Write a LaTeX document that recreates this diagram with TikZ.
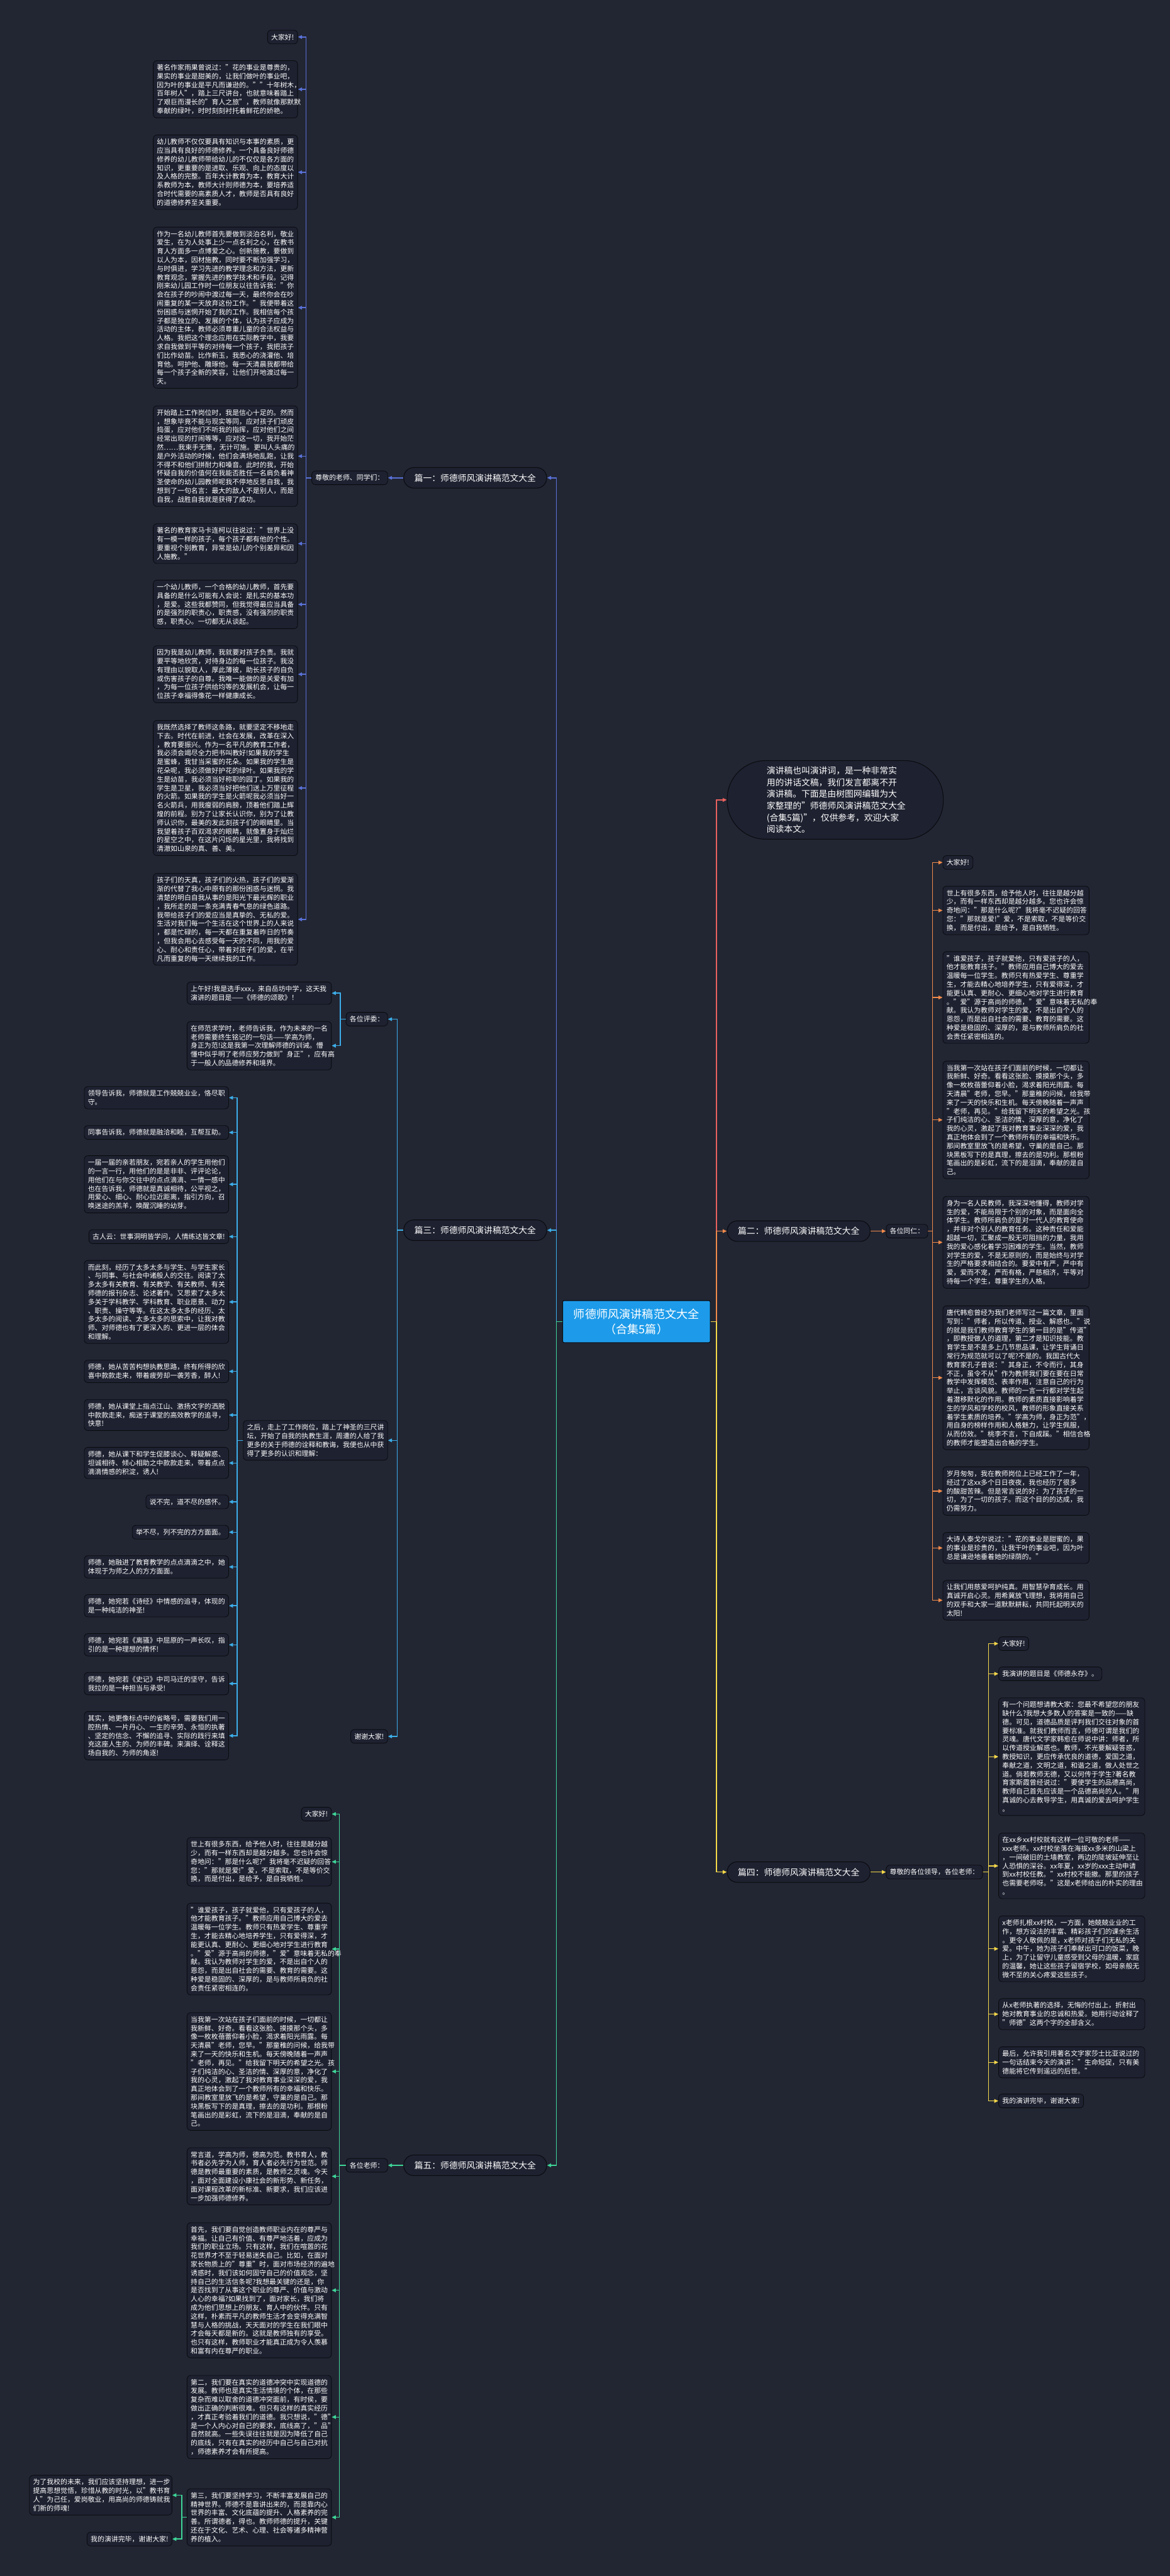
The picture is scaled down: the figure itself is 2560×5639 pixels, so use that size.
\documentclass[tikz,border=0pt]{standalone}
\usepackage{fontspec}
\setmainfont{Noto Sans CJK SC}
\usetikzlibrary{arrows.meta}

\definecolor{bg}{HTML}{222633}
\definecolor{cardfill}{HTML}{1E2130}
\definecolor{edge}{HTML}{0B0C10}
\definecolor{rootblue}{HTML}{1D9BEA}
\definecolor{c1}{HTML}{5A72D8}
\definecolor{c3}{HTML}{3DAEE9}
\definecolor{c5}{HTML}{3ED598}
\definecolor{cI}{HTML}{E8615E}
\definecolor{c2}{HTML}{F08A4B}
\definecolor{c4}{HTML}{F5D84A}

\newcommand\fsa{\fontsize{15}{19}\selectfont}

\tikzset{
  card/.style={draw=edge, fill=cardfill, line width=1.2pt, rounded corners=8pt,
    text=white, inner xsep=8pt, inner ysep=8pt, font=\fsa},
  para/.style={card, align=left, text width=#1},
  para/.default=300pt,
  topic/.style={draw=edge, fill=cardfill, line width=1.5pt, rounded corners=22pt,
    text=white, font=\fontsize{19}{24}\selectfont, minimum width=313pt, minimum height=45pt},
  rootbox/.style={draw=edge, fill=rootblue, line width=1.5pt, rounded corners=3pt,
    text=white, align=center, font=\fontsize{25}{33}\selectfont, minimum width=323pt, minimum height=92pt},
  introbox/.style={draw=edge, fill=cardfill, line width=1.5pt, rounded corners=84pt,
    text=white, align=left, text width=300pt, font=\fontsize{19}{25.6}\selectfont,
    minimum width=473pt, minimum height=172pt},
  link/.style={draw=#1, line width=2pt, -{Triangle[length=9pt,width=8pt]}},
}

\begin{document}
\begin{tikzpicture}[x=1pt,y=-1pt]
  \fill[bg] (0,0) rectangle (2560,5639);
  \useasboundingbox (0,0) rectangle (2560,5639);

  % centre and the five speeches
  \node[rootbox] (root) at (1393,2893) {师德师风演讲稿范文大全\\（合集5篇）};
  \node[topic] (p1) at (1040,1046) {篇一：师德师风演讲稿范文大全};
  \node[topic] (p3) at (1040,2693) {篇三：师德师风演讲稿范文大全};
  \node[topic] (p5) at (1040,4740) {篇五：师德师风演讲稿范文大全};
  \node[topic] (p2) at (1748,2695) {篇二：师德师风演讲稿范文大全};
  \node[topic] (p4) at (1748,4098) {篇四：师德师风演讲稿范文大全};
  \node[introbox] (intro) at (1828,1751) {演讲稿也叫演讲词，是一种非常实\\用的讲话文稿，我们发言都离不开\\演讲稿。下面是由树图网编辑为大\\家整理的"师德师风演讲稿范文大全\\(合集5篇)"，仅供参考，欢迎大家\\阅读本文。};

  % greetings
  \node[card, anchor=east] (la) at (849,1046) {尊敬的老师、同学们：};
  \node[card, anchor=east] (lc) at (849,2231) {各位评委：};
  \node[card, anchor=east] (le) at (849,4740) {各位老师：};
  \node[card, anchor=west] (lb) at (1939,2695) {各位同仁：};
  \node[card, anchor=west] (ld) at (1939,4098) {尊敬的各位领导，各位老师：};

  % speech one
  \node[card, anchor=east] (a1) at (652,81) {大家好!};
  \node[para, anchor=east] (a2) at (652,195.5) {著名作家雨果曾说过："花的事业是尊贵的，\\果实的事业是甜美的，让我们做叶的事业吧，\\因为叶的事业是平凡而谦逊的。""十年树木，\\百年树人"，踏上三尺讲台，也就意味着踏上\\了艰巨而漫长的"育人之旅"，教师就像那默默\\奉献的绿叶，时时刻刻衬托着鲜花的娇艳。};
  \node[para, anchor=east] (a3) at (652,377) {幼儿教师不仅仅要具有知识与本事的素质，更\\应当具有良好的师德修养。一个具备良好师德\\修养的幼儿教师带给幼儿的不仅仅是各方面的\\知识，更重要的是进取、乐观、向上的态度以\\及人格的完整。百年大计教育为本，教育大计\\系教师为本，教师大计则师德为本，要培养适\\合时代需要的高素质人才，教师是否具有良好\\的道德修养至关重要。};
  \node[para, anchor=east] (a4) at (652,673.5) {作为一名幼儿教师首先要做到淡泊名利，敬业\\爱生，在为人处事上少一点名利之心，在教书\\育人方面多一点博爱之心。创新施教，要做到\\以人为本，因材施教，同时要不断加强学习，\\与时俱进，学习先进的教学理念和方法，更新\\教育观念，掌握先进的教学技术和手段。记得\\刚来幼儿园工作时一位朋友以往告诉我："你\\会在孩子的吵闹中渡过每一天，最终你会在吵\\闹重复的某一天放弃这份工作。"我便带着这\\份困惑与迷惘开始了我的工作。我相信每个孩\\子都是独立的、发展的个体，认为孩子应成为\\活动的主体，教师必须尊重儿童的合法权益与\\人格。我把这个理念应用在实际教学中，我要\\求自我做到平等的对待每一个孩子，我把孩子\\们比作幼苗。比作新玉，我悉心的浇灌他、培\\育他。呵护他、雕琢他。每一天清晨我都带给\\每一个孩子全新的笑容，让他们开地渡过每一\\天。};
  \node[para, anchor=east] (a5) at (652,998.5) {开始踏上工作岗位时，我是信心十足的。然而\\，想象毕竟不能与现实等同，应对孩子们顽皮\\捣蛋，应对他们不听我的指挥，应对他们之间\\经常出现的打闹等等，应对这一切，我开始茫\\然……我束手无策，无计可施。更叫人头痛的\\是户外活动的时候，他们会满场地乱跑，让我\\不得不和他们拼耐力和嗓音。此时的我，开始\\怀疑自我的价值何在我能否胜任一名肩负着神\\圣使命的幼儿园教师呢我不停地反思自我，我\\想到了一句名言：最大的敌人不是别人，而是\\自我，战胜自我就是获得了成功。};
  \node[para, anchor=east] (a6) at (652,1190) {著名的教育家马卡连柯以往说过："世界上没\\有一模一样的孩子，每个孩子都有他的个性。\\要重视个别教育，异常是幼儿的个别差异和因\\人施教。"};
  \node[para, anchor=east] (a7) at (652,1323) {一个幼儿教师，一个合格的幼儿教师，首先要\\具备的是什么可能有人会说：是扎实的基本功\\，是爱。这些我都赞同，但我觉得最应当具备\\的是强烈的职责心，职责感，没有强烈的职责\\感，职责心。一切都无从谈起。};
  \node[para, anchor=east] (a8) at (652,1476) {因为我是幼儿教师，我就要对孩子负责。我就\\要平等地欣赏，对待身边的每一位孩子。我没\\有理由以貌取人，厚此薄彼，助长孩子的自负\\或伤害孩子的自尊。我唯一能做的是关爱有加\\，为每一位孩子供给均等的发展机会，让每一\\位孩子幸福得像花一样健康成长。};
  \node[para, anchor=east] (a9) at (652,1725) {我既然选择了教师这条路，就要坚定不移地走\\下去。时代在前进，社会在发展，改革在深入\\，教育要振兴。作为一名平凡的教育工作者，\\我必须会竭尽全力把书叫教好!如果我的学生\\是蜜蜂，我甘当采蜜的花朵。如果我的学生是\\花朵呢，我必须做好护花的绿叶。如果我的学\\生是幼苗，我必须当好称职的园丁。如果我的\\学生是卫星，我必须当好把他们送上万里征程\\的火箭。如果我的学生是火箭呢我必须当好一\\名火箭兵，用我瘦弱的肩膀，顶着他们踏上辉\\煌的前程。别为了让家长认识你，别为了让教\\师认识你，最美的发此刻孩子们的眼睛里。当\\我望着孩子百双渴求的眼睛，就像置身于灿烂\\的星空之中，在这片闪烁的星光里，我将找到\\清澈如山泉的真、善、美。};
  \node[para, anchor=east] (a10) at (652,2012.5) {孩子们的天真，孩子们的火热，孩子们的爱渐\\渐的代替了我心中原有的那份困惑与迷惘。我\\清楚的明白自我从事的是阳光下最光辉的职业\\，我所走的是一条充满青春气息的绿色道路。\\我带给孩子们的爱应当是真挚的、无私的爱。\\生活对我们每一个生活在这个世界上的人来说\\，都是忙碌的，每一天都在重复着昨日的节奏\\，但我会用心去感受每一天的不同，用我的爱\\心、耐心和责任心，带着对孩子们的爱，在平\\凡而重复的每一天继续我的工作。};

  % speech three
  \node[para, anchor=east] (b1) at (726,2174) {上午好!我是选手xxx，来自岳坊中学，这天我\\演讲的题目是——《师德的颂歌》！};
  \node[para, anchor=east] (b2) at (726,2289) {在师范求学时，老师告诉我，作为未来的一名\\老师需要终生铭记的一句话——学高为师，\\身正为范!这是我第一次理解师德的训诫。懵\\懂中似乎明了老师应努力做到"身正"，应有高\\于一般人的品德修养和境界。};
  \node[para, anchor=east] (cafter) at (849,3153) {之后，走上了工作岗位，踏上了神圣的三尺讲\\坛，开始了自我的执教生涯，周遭的人给了我\\更多的关于师德的诠释和教诲，我便也从中获\\得了更多的认识和理解：};
  \node[card, anchor=east] (cbye) at (849,3801) {谢谢大家!};
  \node[para, anchor=east] (d1) at (501,2403) {领导告诉我，师德就是工作兢兢业业，恪尽职\\守。};
  \node[para, anchor=east] (d2) at (501,2479) {同事告诉我，师德就是融洽和睦，互帮互助。};
  \node[para, anchor=east] (d3) at (501,2592.5) {一届一届的亲若朋友，宛若亲人的学生用他们\\的一言一行，用他们的是是非非、评评论论，\\用他们在与你交往中的点点滴滴、一情一感中\\也在告诉我，师德就是真诚相待，公平视之，\\用爱心、细心、耐心拉近距离，指引方向，召\\唤迷途的羔羊，唤醒沉睡的幼芽。};
  \node[card, anchor=east] (d4) at (501,2707) {古人云：世事洞明皆学问，人情练达皆文章!};
  \node[para, anchor=east] (d5) at (501,2850) {而此刻，经历了太多太多与学生、与学生家长\\、与同事、与社会中诸般人的交往。阅读了太\\多太多有关教育、有关教学、有关教师、有关\\师德的报刊杂志、论述著作。又思索了太多太\\多关于学科教学、学科教育、职业愿景、动力\\、职责、操守等等。在这太多太多的经历、太\\多太多的阅读、太多太多的思索中，让我对教\\师、对师德也有了更深入的、更进一层的体会\\和理解。};
  \node[para, anchor=east] (d6) at (501,3002) {师德，她从苦苦构想执教思路，终有所得的欣\\喜中款款走来，带着疲劳却一袭芳香，醉人!};
  \node[para, anchor=east] (d7) at (501,3097.5) {师德，她从课堂上指点江山、激扬文字的洒脱\\中款款走来，痴迷于课堂的高效教学的追寻，\\快意!};
  \node[para, anchor=east] (d8) at (501,3202.5) {师德，她从课下和学生促膝谈心、释疑解惑、\\坦诚相待、倾心相助之中款款走来，带着点点\\滴滴情感的积淀，诱人!};
  \node[card, anchor=east] (d9) at (501,3287.5) {说不完，道不尽的感怀。};
  \node[card, anchor=east] (d10) at (501,3354) {举不尽，列不完的方方面面。};
  \node[para, anchor=east] (d11) at (501,3430) {师德，她融进了教育教学的点点滴滴之中，她\\体现于为师之人的方方面面。};
  \node[para, anchor=east] (d12) at (501,3515) {师德，她宛若《诗经》中情感的追寻，体现的\\是一种纯洁的神圣!};
  \node[para, anchor=east] (d13) at (501,3600.5) {师德，她宛若《离骚》中屈原的一声长叹，指\\引的是一种理想的情怀!};
  \node[para, anchor=east] (d14) at (501,3685.5) {师德，她宛若《史记》中司马迁的坚守，告诉\\我拉的是一种担当与承受!};
  \node[para, anchor=east] (d15) at (501,3799.5) {其实，她更像标点中的省略号，需要我们用一\\腔热情、一片丹心、一生的辛劳、永恒的执著\\、坚定的信念、不懈的追寻、实际的践行来填\\充这座人生的、为师的丰碑。来演绎、诠释这\\场自我的、为师的角逐!};

  % speech five
  \node[card, anchor=east] (e1) at (726,3971) {大家好!};
  \node[para, anchor=east] (e2) at (726,4075.5) {世上有很多东西，给予他人时，往往是越分越\\少，而有一样东西却是越分越多。您也许会惊\\奇地问："那是什么呢?"我将毫不迟疑的回答\\您："那就是爱!"爱，不是索取，不是等价交\\换，而是付出，是给予，是自我牺牲。};
  \node[para, anchor=east] (e3) at (726,4266.5) {"谁爱孩子，孩子就爱他，只有爱孩子的人，\\他才能教育孩子。"教师应用自己博大的爱去\\温暖每一位学生。教师只有热爱学生、尊重学\\生，才能去精心地培养学生，只有爱得深，才\\能更认真、更耐心、更细心地对学生进行教育\\。"爱"源于高尚的师德，"爱"意味着无私的奉\\献。我认为教师对学生的爱，不是出自个人的\\恩怨，而是出自社会的需要、教育的需要。这\\种爱是稳固的、深厚的，是与教师所肩负的社\\会责任紧密相连的。};
  \node[para, anchor=east] (e4) at (726,4534.5) {当我第一次站在孩子们面前的时候，一切都让\\我新鲜、好奇。看看这张脸、摸摸那个头，多\\像一枚枚蓓蕾仰着小脸，渴求着阳光雨露。每\\天清晨"老师，您早。"那童稚的问候，给我带\\来了一天的快乐和生机。每天傍晚随着一声声\\"老师，再见。"给我留下明天的希望之光。孩\\子们纯洁的心、圣洁的情、深厚的意，净化了\\我的心灵，激起了我对教育事业深深的爱，我\\真正地体会到了一个教师所有的幸福和快乐。\\那间教室里放飞的是希望，守巢的是自己。那\\块黑板写下的是真理，擦去的是功利。那根粉\\笔画出的是彩虹，流下的是泪滴，奉献的是自\\己。};
  \node[para, anchor=east] (e5) at (726,4764) {常言道，学高为师，德高为范。教书育人，教\\书者必先学为人师，育人者必先行为世范。师\\德是教师最重要的素质，是教师之灵魂。今天\\，面对全面建设小康社会的新形势、新任务，\\面对课程改革的新标准、新要求，我们应该进\\一步加强师德修养。};
  \node[para, anchor=east] (e6) at (726,5013.5) {首先，我们要自觉创造教师职业内在的尊严与\\幸福。让自己有价值、有尊严地活着，应成为\\我们的职业立场。只有这样，我们在喧嚣的花\\花世界才不至于轻易迷失自己。比如，在面对\\家长物质上的"尊重"时，面对市场经济的遍地\\诱惑时，我们该如何固守自己的价值观念，坚\\持自己的生活信条呢?我想最关键的还是，你\\是否找到了从事这个职业的尊严、价值与激动\\人心的幸福?如果找到了，面对家长，我们将\\成为他们思想上的朋友、育人中的伙伴。只有\\这样，朴素而平凡的教师生活才会变得充满智\\慧与人格的挑战，天天面对的学生在我们眼中\\才会每天都是新的。这就是教师独有的享受。\\也只有这样，教师职业才能真正成为令人羡慕\\和富有内在尊严的职业。};
  \node[para, anchor=east] (e7) at (726,5291) {第二，我们要在真实的道德冲突中实现道德的\\发展。教师也是真实生活情境的个体，在那些\\复杂而难以取舍的道德冲突面前，有时侯，要\\做出正确的判断很难。但只有这样的真实经历\\，才真正考验着我们的道德。我只想说，"德"\\是一个人内心对自己的要求，底线高了，"品"\\自然就高。一些失误往往就是因为降低了自己\\的底线，只有在真实的经历中自己与自己对抗\\，师德素养才会有所提高。};
  \node[para, anchor=east] (e8) at (726,5510.5) {第三，我们要坚持学习，不断丰富发展自己的\\精神世界。师德不是靠讲出来的，而是靠内心\\世界的丰富、文化底蕴的提升、人格素养的完\\善。所谓德者，得也。教师师德的提升，关键\\还在于文化、艺术、心理、社会等诸多精神营\\养的植入。};
  \node[para=296pt, anchor=east] (f1) at (377,5462) {为了我校的未来，我们应该坚持理想，进一步\\提高思想觉悟，珍惜从教的时光，以"教书育\\人"为己任，爱岗敬业，用高尚的师德铸就我\\们新的师魂!};
  \node[card, anchor=east] (f2) at (377,5558) {我的演讲完毕，谢谢大家!};

  % speech two
  \node[card, anchor=west] (g1) at (2063,1888) {大家好!};
  \node[para=304pt, anchor=west] (g2) at (2063,1993) {世上有很多东西，给予他人时，往往是越分越\\少，而有一样东西却是越分越多。您也许会惊\\奇地问："那是什么呢?"我将毫不迟疑的回答\\您："那就是爱!"爱，不是索取，不是等价交\\换，而是付出，是给予，是自我牺牲。};
  \node[para=304pt, anchor=west] (g3) at (2063,2183.5) {"谁爱孩子，孩子就爱他，只有爱孩子的人，\\他才能教育孩子。"教师应用自己博大的爱去\\温暖每一位学生。教师只有热爱学生、尊重学\\生，才能去精心地培养学生，只有爱得深，才\\能更认真、更耐心、更细心地对学生进行教育\\。"爱"源于高尚的师德，"爱"意味着无私的奉\\献。我认为教师对学生的爱，不是出自个人的\\恩怨，而是出自社会的需要、教育的需要。这\\种爱是稳固的、深厚的，是与教师所肩负的社\\会责任紧密相连的。};
  \node[para=304pt, anchor=west] (g4) at (2063,2451.5) {当我第一次站在孩子们面前的时候，一切都让\\我新鲜、好奇。看看这张脸、摸摸那个头，多\\像一枚枚蓓蕾仰着小脸，渴求着阳光雨露。每\\天清晨"老师，您早。"那童稚的问候，给我带\\来了一天的快乐和生机。每天傍晚随着一声声\\"老师，再见。"给我留下明天的希望之光。孩\\子们纯洁的心、圣洁的情、深厚的意，净化了\\我的心灵，激起了我对教育事业深深的爱，我\\真正地体会到了一个教师所有的幸福和快乐。\\那间教室里放飞的是希望，守巢的是自己。那\\块黑板写下的是真理，擦去的是功利。那根粉\\笔画出的是彩虹，流下的是泪滴，奉献的是自\\己。};
  \node[para=304pt, anchor=west] (g5) at (2063,2719.5) {身为一名人民教师，我深深地懂得，教师对学\\生的爱，不能局限于个别的对象，而是面向全\\体学生。教师所肩负的是对一代人的教育使命\\，并非对个别人的教育任务。这种责任和爱能\\超越一切，汇聚成一股无可阻挡的力量，我用\\我的爱心感化着学习困难的学生。当然，教师\\对学生的爱，不是无原则的，而是始终与对学\\生的严格要求相结合的。要爱中有严，严中有\\爱，爱而不宠，严而有格，严慈相济，平等对\\待每一个学生，尊重学生的人格。};
  \node[para=304pt, anchor=west] (g6) at (2063,3016) {唐代韩愈曾经为我们老师写过一篇文章，里面\\写到："师者，所以传道、授业、解惑也。"说\\的就是我们教师教育学生的第一目的是"传道"\\，即教授做人的道理，第二才是知识技能。教\\育学生是不是多上几节思品课，让学生背诵日\\常行为规范就可以了呢?不是的。我国古代大\\教育家孔子曾说："其身正，不令而行，其身\\不正，虽令不从"作为教师我们要在要在日常\\教学中发挥模范、表率作用，注意自己的行为\\举止，言谈风貌。教师的一言一行都对学生起\\着潜移默化的作用。教师的素质直接影响着学\\生的学风和学校的校风，教师的形象直接关系\\着学生素质的培养。"学高为师，身正为范"，\\用自身的榜样作用和人格魅力，让学生佩服，\\从而仿效。"桃李不言，下自成蹊。"相信合格\\的教师才能塑造出合格的学生。};
  \node[para=304pt, anchor=west] (g7) at (2063,3264) {岁月匆匆，我在教师岗位上已经工作了一年，\\经过了这xx多个日日夜夜，我也经历了很多\\的酸甜苦辣。但是常言说的好：为了孩子的一\\切，为了一切的孩子。而这个目的的达成，我\\仍需努力。};
  \node[para=304pt, anchor=west] (g8) at (2063,3388.5) {大诗人泰戈尔说过："花的事业是甜蜜的，果\\的事业是珍贵的，让我干叶的事业吧，因为叶\\总是谦逊地垂着她的绿荫的。"};
  \node[para=304pt, anchor=west] (g9) at (2063,3503) {让我们用慈爱呵护纯真。用智慧孕育成长。用\\真诚开启心灵。用希冀放飞理想，我将用自己\\的双手和大家一道默默耕耘，共同托起明天的\\太阳!};

  % speech four
  \node[card, anchor=west] (h1) at (2185,3598) {大家好!};
  \node[card, anchor=west] (h2) at (2185,3664) {我演讲的题目是《师德永存》。};
  \node[para=304pt, anchor=west] (h3) at (2185,3845.5) {有一个问题想请教大家：您最不希望您的朋友\\缺什么?我想大多数人的答案是一致的——缺\\德。可见，道德品质是评判我们交往对象的首\\要标准。就我们教师而言，师德可谓是我们的\\灵魂。唐代文学家韩愈在师说中讲：师者，所\\以传道授业解惑也。教师，不光要解疑答惑，\\教授知识，更应传承优良的道德，爱国之道，\\奉献之道，文明之道，和谐之道，做人处世之\\道。倘若教师无德，又以何传于学生?著名教\\育家斯霞曾经说过："要使学生的品德高尚，\\教师自己首先应该是一个品德高尚的人。"用\\真诚的心去教导学生，用真诚的爱去呵护学生\\。};
  \node[para=304pt, anchor=west] (h4) at (2185,4084.5) {在xx乡xx村校就有这样一位可敬的老师——\\xxx老师。xx村校坐落在海拔xx多米的山梁上\\，一间破旧的土墙教室，两边的陡坡延伸至让\\人恐惧的深谷。xx年夏，xx岁的xxx主动申请\\到xx村校任教。"xx村校不能撤。那里的孩子\\也需要老师呀。"这是x老师给出的朴实的理由\\。};
  \node[para=304pt, anchor=west] (h5) at (2185,4266) {x老师扎根xx村校，一方面，她兢兢业业的工\\作，想方设法的丰富、精彩孩子们的课余生活\\。更令人敬佩的是，x老师对孩子们无私的关\\爱。中午，她为孩子们奉献出可口的饭菜，晚\\上，为了让留守儿童感受到父母的温暖，家庭\\的温馨，她让这些孩子留宿学校，如母亲般无\\微不至的关心疼爱这些孩子。};
  \node[para=304pt, anchor=west] (h6) at (2185,4409) {从x老师执著的选择，无悔的付出上，折射出\\她对教育事业的忠诚和热爱。她用行动诠释了\\"师德"这两个字的全部含义。};
  \node[para=304pt, anchor=west] (h7) at (2185,4514.5) {最后，允许我引用著名文字家莎士比亚说过的\\一句话结束今天的演讲："生命短促，只有美\\德能将它传到遥远的后世。"};
  \node[card, anchor=west] (h8) at (2185,4599) {我的演讲完毕，谢谢大家!};

  % connectors
  \draw[link=c1] (root.west) -- ++(-13,0) |- (p1.east);
  \draw[link=c3] (root.west) -- ++(-13,0) |- (p3.east);
  \draw[link=c5] (root.west) -- ++(-13,0) |- (p5.east);
  \draw[link=cI] (root.east) -- ++(13,0) |- (intro.west);
  \draw[link=c2] (root.east) -- ++(13,0) |- (p2.west);
  \draw[link=c4] (root.east) -- ++(13,0) |- (p4.west);

  \draw[link=c1] (p1.west) -- (la.east);
  \foreach \to in {a1,a2,a3,a4,a5,a6,a7,a8,a9,a10}
    \draw[link=c1] (la.west) -- ++(-12,0) |- (\to.east);

  \foreach \to in {lc,cafter,cbye}
    \draw[link=c3] (p3.west) -- ++(-13,0) |- (\to.east);
  \foreach \to in {b1,b2}
    \draw[link=c3] (lc.west) -- ++(-12,0) |- (\to.east);
  \foreach \to in {d1,d2,d3,d4,d5,d6,d7,d8,d9,d10,d11,d12,d13,d14,d15}
    \draw[link=c3] (cafter.west) -- ++(-13,0) |- (\to.east);

  \draw[link=c5] (p5.west) -- (le.east);
  \foreach \to in {e1,e2,e3,e4,e5,e6,e7,e8}
    \draw[link=c5] (le.west) -- ++(-14,0) |- (\to.east);
  \foreach \to in {f1,f2}
    \draw[link=c5] (e8.west) -- ++(-11,0) |- (\to.east);

  \draw[link=c2] (p2.east) -- (lb.west);
  \foreach \to in {g1,g2,g3,g4,g5,g6,g7,g8,g9}
    \draw[link=c2] (lb.east) -- ++(10,0) |- (\to.west);

  \draw[link=c4] (p4.east) -- (ld.west);
  \foreach \to in {h1,h2,h3,h4,h5,h6,h7,h8}
    \draw[link=c4] (ld.east) -- ++(12,0) |- (\to.west);

\end{tikzpicture}
\end{document}
